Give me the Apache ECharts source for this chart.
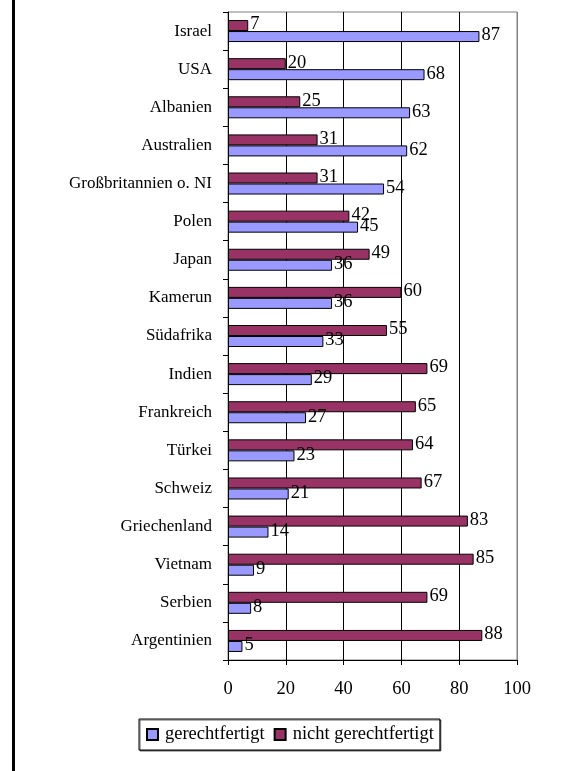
<!DOCTYPE html>
<html>
<head>
<meta charset="utf-8">
<script src="https://cdn.jsdelivr.net/npm/echarts@6/dist/echarts.min.js"></script>
<style>
  body { margin: 0; background: #fff; }
  #chart { width: 568px; height: 771px; }
  #frame { position: absolute; left: 12px; top: 0; width: 3px; height: 771px; background: #000; }
</style>
</head>
<body>
<div id="frame"></div>
<div id="chart"></div>
<script>
// Länder von oben nach unten
var laender = ['Israel', 'USA', 'Albanien', 'Australien', 'Großbritannien o. NI', 'Polen', 'Japan',
    'Kamerun', 'Südafrika', 'Indien', 'Frankreich', 'Türkei', 'Schweiz', 'Griechenland',
    'Vietnam', 'Serbien', 'Argentinien'];
var gerechtfertigt = [87, 68, 63, 62, 54, 45, 36, 36, 33, 29, 27, 23, 21, 14, 9, 8, 5];
var nichtGerechtfertigt = [7, 20, 25, 31, 31, 42, 49, 60, 55, 69, 65, 64, 67, 83, 85, 69, 88];
var xTicks = [0, 20, 40, 60, 80, 100];

var font = 'Liberation Serif';
var chart = echarts.init(document.getElementById('chart'));

var label = {
    show: true,
    position: 'right',
    distance: 2,
    offset: [0, -1],
    color: '#000',
    fontFamily: font,
    fontSize: 18.5
};

var option = {
    animation: false,
    textStyle: { fontFamily: font },
    grid: {
        left: 228,
        right: 51,
        top: 12,
        bottom: 111,
        show: true,
        borderColor: '#808080',
        borderWidth: 1
    },
    legend: {
        left: 139,
        top: 719,
        orient: 'horizontal',
        data: ['gerechtfertigt', 'nicht gerechtfertigt'],
        itemWidth: 11,
        itemHeight: 11,
        itemGap: 9,
        icon: 'rect',
        padding: [6, 6, 6, 7],
        borderColor: '#000',
        borderWidth: 1,
        backgroundColor: '#fff',
        shadowColor: 'rgba(0,0,0,0.6)',
        shadowOffsetX: 1,
        shadowOffsetY: 1,
        textStyle: { fontFamily: font, fontSize: 18.5, color: '#000', padding: [0, 0, 0, 2] }
    },
    xAxis: {
        type: 'value',
        min: xTicks[0],
        max: xTicks[xTicks.length - 1],
        interval: 20,
        axisLine: { show: true, lineStyle: { color: '#000', width: 1 } },
        axisTick: { show: true, length: 5, lineStyle: { color: '#000' } },
        axisLabel: { color: '#000', fontFamily: font, fontSize: 18.5, margin: 20 },
        splitLine: {
            show: true,
            lineStyle: { color: ['#000', '#000', '#000', '#000', '#000', '#808080'], width: 1 }
        }
    },
    yAxis: {
        type: 'category',
        inverse: true,
        data: laender,
        axisLine: { show: true, lineStyle: { color: '#000', width: 1 } },
        axisTick: { show: true, length: 5, alignWithLabel: false, lineStyle: { color: '#000' } },
        axisLabel: { color: '#000', fontFamily: font, fontSize: 17, margin: 16 },
        splitLine: { show: false }
    },
    series: [
        {
            name: 'nicht gerechtfertigt',
            type: 'bar',
            data: nichtGerechtfertigt,
            barWidth: 11,
            barGap: '0%',
            itemStyle: { color: '#993366', borderColor: '#000', borderWidth: 1 },
            label: label
        },
        {
            name: 'gerechtfertigt',
            type: 'bar',
            data: gerechtfertigt,
            barWidth: 11,
            barGap: '0%',
            itemStyle: { color: '#9999FF', borderColor: '#000', borderWidth: 1 },
            label: label
        }
    ]
};
chart.setOption(option);
</script>
</body>
</html>
